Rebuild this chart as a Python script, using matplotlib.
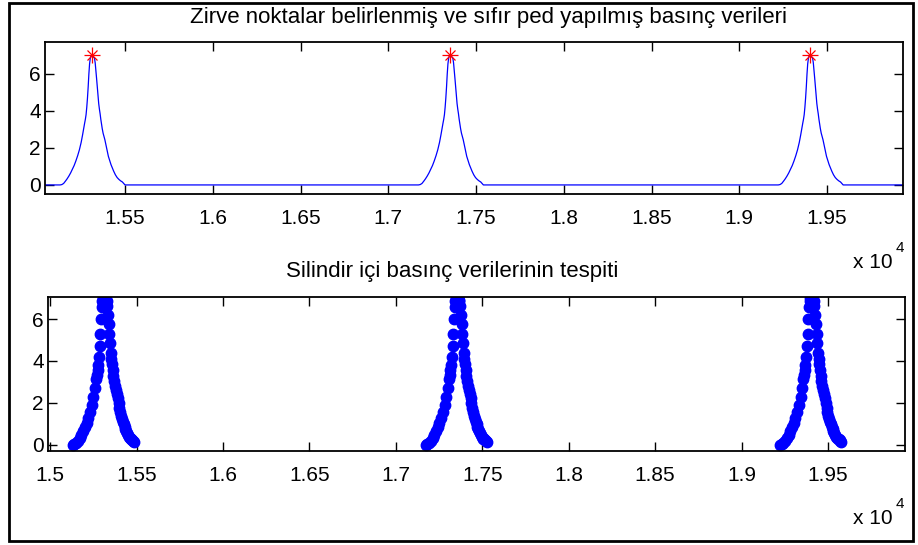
import matplotlib
matplotlib.use("Agg")
import matplotlib.pyplot as plt
from matplotlib.patches import Rectangle

plt.rcParams["font.family"] = ["Liberation Sans", "DejaVu Sans"]

# pulse profile around each peak: sample offset -> pressure
pulse_offsets = [-180, -170, -160, -150, -140, -130, -120, -110, -100, -90,
                 -80, -70, -60, -52, -44, -40, -36, -32, -28, -24,
                 -20, -16, -12, -8, -4, 0, 4, 8, 12, 16,
                 20, 24, 28, 32, 36, 40, 44, 48, 52, 56,
                 60, 65, 70, 75, 80, 85, 90, 95, 100, 105,
                 110, 115, 120, 125, 130, 135, 140, 145, 150, 155,
                 160, 165, 170, 175, 190]
pulse_values = [0.0, 0.02, 0.08, 0.2, 0.33, 0.48, 0.65, 0.85, 1.05, 1.3,
                1.58, 1.9, 2.3, 2.7, 3.15, 3.35, 3.55, 3.8, 4.2, 4.7,
                5.3, 6.0, 6.55, 6.85, 6.98, 7.0, 7.0, 6.95, 6.9, 6.85,
                6.6, 6.2, 5.75, 5.3, 4.85, 4.4, 4.1, 3.85, 3.55, 3.3,
                3.05, 2.8, 2.62, 2.45, 2.22, 2.0, 1.78, 1.55, 1.4, 1.25,
                1.1, 0.98, 0.86, 0.75, 0.65, 0.55, 0.47, 0.4, 0.35, 0.3,
                0.26, 0.22, 0.19, 0.16, 0.0]

peak_centers = [15310, 17352, 19402]
peak_heights = [7.05, 7.05, 7.05]

top_xlim = (15044, 19933)
top_ylim = (-0.49, 7.73)
bottom_xlim = (14987, 19946)
bottom_ylim = (-0.29, 7.05)

yticks = [0, 2, 4, 6]
xticks = [15000, 15500, 16000, 16500, 17000, 17500, 18000, 18500, 19000, 19500]
xtick_labels = ["1.5", "1.55", "1.6", "1.65", "1.7", "1.75", "1.8", "1.85", "1.9", "1.95"]

top_title = "Zirve noktalar belirlenmiş ve sıfır ped yapılmış basınç verileri"
bottom_title = "Silindir içi basınç verilerinin tespiti"

W, H = 918, 545
FS = 15

# full signal with zero baseline between pulses
sig_x = [top_xlim[0]]
sig_y = [0.0]
for c in peak_centers:
    sig_x += [c + o for o in pulse_offsets]
    sig_y += pulse_values
sig_x.append(top_xlim[1])
sig_y.append(0.0)

fig = plt.figure(figsize=(W / 100, H / 100), dpi=100)
fig.patch.set_facecolor("white")


def px_axes(left, top, right, bottom):
    return fig.add_axes([left / W, 1 - bottom / H, (right - left) / W, (bottom - top) / H])


def style(ax, xlim, ylim):
    ax.set_xticks(xticks)
    ax.set_xticklabels(xtick_labels)
    ax.set_yticks(yticks)
    ax.set_xlim(*xlim)
    ax.set_ylim(*ylim)
    ax.tick_params(direction="in", top=True, right=True, length=6.5, width=1,
                   labelsize=FS, colors="black")
    ax.tick_params(axis="y", pad=3)
    ax.tick_params(axis="x", pad=11)
    for s in ax.spines.values():
        s.set_linewidth(1.3)


ax1 = px_axes(45, 42, 903, 194)
ax1.plot(sig_x, sig_y, color=(0, 0, 1), lw=0.9)
for c, h in zip(peak_centers, peak_heights):
    ax1.plot(c, h, marker="+", ms=11, mew=0.9, color="red", ls="none")
    ax1.plot(c, h, marker="x", ms=7.5, mew=0.9, color="red", ls="none")
style(ax1, top_xlim, top_ylim)

ax2 = px_axes(48, 297, 905, 451)
for c in peak_centers:
    seg_x = [c + o for o in pulse_offsets[:-1]]
    ax2.plot(seg_x, pulse_values[:-1], "o", color=(0, 0, 1), ms=7.5, mec=(0, 0, 1))
style(ax2, bottom_xlim, bottom_ylim)

fig.text(488 / W, 1 - 17 / H, top_title, ha="center", va="center", fontsize=16)
fig.text(452 / W, 1 - 272 / H, bottom_title, ha="center", va="center", fontsize=16)

for yc in (262, 518):
    fig.text(853 / W, 1 - yc / H, "x 10", ha="left", va="center", fontsize=FS)
    fig.text(896 / W, 1 - (yc - 14) / H, "4", ha="left", va="center", fontsize=11)

fig.add_artist(Rectangle((9 / W, 1 - 541 / H), (913 - 9) / W, (541 - 3) / H,
                         transform=fig.transFigure, fill=False, lw=2, ec="black"))

fig.savefig("out.png", dpi=100)
